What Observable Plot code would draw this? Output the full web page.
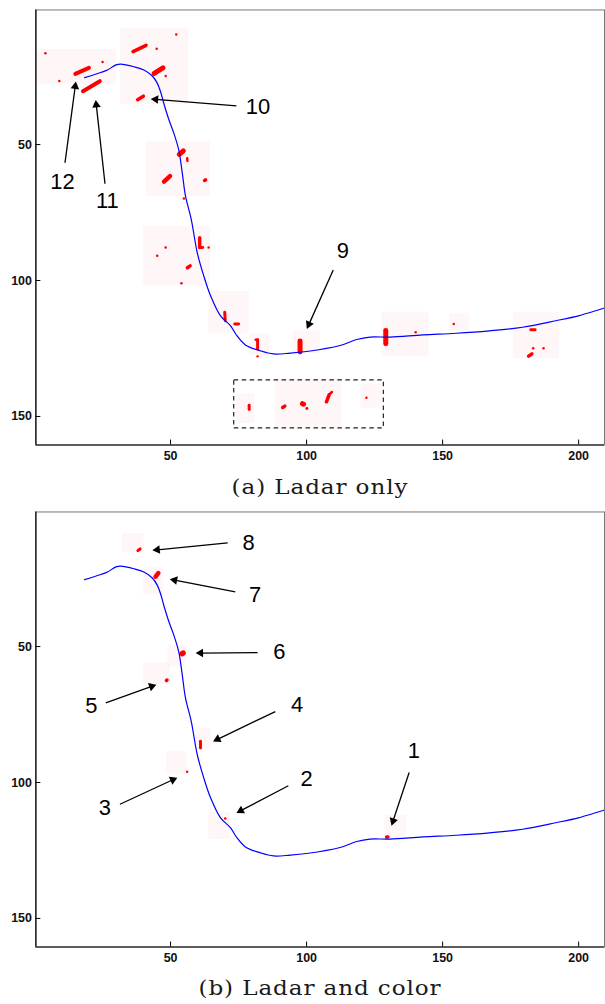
<!DOCTYPE html>
<html><head><meta charset="utf-8">
<script src="https://cdn.jsdelivr.net/npm/d3@7"></script>
<script src="https://cdn.jsdelivr.net/npm/@observablehq/plot@0.6"></script>
<style>
html,body{margin:0;padding:0;background:#fff;width:605px;height:1004px;overflow:hidden;}
#wrap{position:relative;width:605px;height:1004px;overflow:hidden;}
.panel{position:absolute;left:0;}
.cap{position:absolute;left:35px;width:570px;text-align:center;font-family:"DejaVu Serif",serif;font-size:21px;letter-spacing:0.8px;color:#1a1a1a;line-height:26px;transform:scaleX(1.1);transform-origin:center;}
</style></head><body><div id="wrap"></div>
<script>
// ---- data (image coordinates: x right, y down) ----
const xTicks = [50, 100, 150, 200];
const yTicks = [50, 100, 150];
const xDomain = [0.5, 209.5];
const yDomain = [0.5, 160.5];

// road centreline
const roadX = [18.4, 24.4, 26.8, 29.9, 31.7, 36.6, 40.2, 43.3, 45.1, 46.3, 47.5, 49.4, 51.2, 53.0, 54.3, 55.5, 57.6, 59.8, 62.2, 64.7, 68.3, 72.0, 74.4, 77.5, 82.9, 87.8, 94.0, 100.0, 112.3, 118.4, 123.3, 130.6, 142.8, 155.0, 167.2, 179.4, 191.6, 200.2, 209.5];
const roadY = [25.4, 23.5, 22.6, 20.7, 20.4, 21.4, 22.6, 24.8, 27.4, 30.5, 34.8, 40.9, 45.8, 51.9, 60.4, 69.0, 77.5, 89.7, 98.3, 105.6, 112.9, 116.6, 120.3, 123.7, 125.8, 127.0, 126.7, 126.1, 123.9, 121.7, 120.8, 120.8, 120.0, 119.4, 118.5, 117.2, 114.8, 112.9, 110.1];

// detections: [x1, y1, x2, y2, blob extent]
const detectionsA = [
  [4.0,16.4,4.0,16.4,2.5],[15.0,24.0,20.0,21.8,4],[9.1,26.6,9.1,26.6,2.5],[25.0,19.6,25.0,19.6,2.5],
  [17.8,30.4,24.0,26.7,4],[36.2,15.8,41.0,13.5,3.5],[44.9,14.8,44.9,14.8,2.5],[52.1,9.5,52.1,9.5,2.5],
  [44.0,23.8,47.2,21.8,5],[48.2,24.8,48.2,24.8,2.5],[37.9,33.5,40.0,32.2,3.5],[53.2,53.6,54.7,52.3,5],
  [56.1,55.0,56.2,56.0,2.5],[47.6,63.6,49.8,61.6,4.5],[62.5,63.2,62.9,63.0,3.5],[54.9,69.8,54.9,69.8,2.5],
  [60.7,84.3,60.7,87.9,3.5],[60.7,87.9,61.8,87.9,3],[64.0,87.9,64.0,87.9,2.5],[48.2,87.9,48.2,87.9,2.5],
  [45.1,90.9,45.1,90.9,2.5],[56.2,95.3,57.2,94.6,3.5],[54.0,101.0,54.0,101.0,2.5],[69.9,111.7,70.1,114.8,3],
  [73.6,116.0,75.0,116.0,3],[81.3,121.8,82.0,121.8,2.5],[82.0,121.8,82.0,125.2,3],[82.0,127.9,82.0,127.9,2.5],
  [97.6,122.2,97.6,126.3,5],[129.1,118.4,129.1,123.3,5],[140.1,119.0,140.1,119.0,2.5],[154.1,116.0,154.1,116.0,2.5],
  [182.4,118.1,184.0,118.1,3],[183.3,124.9,183.3,124.9,2.5],[187.1,124.9,187.1,124.9,2.5],[181.6,127.8,182.8,127.0,3.5],
  [78.9,145.9,78.9,147.4,3],[91.2,146.7,92.0,146.2,3.5],[98.5,145.3,98.9,145.5,5],[100.1,147.1,100.1,147.1,3],
  [107.3,144.6,108.3,142.0,3.5],[108.3,142.0,109.3,141.0,2.5],[122.0,143.1,122.0,143.1,2.5]
];
const detectionsB = [
  [38.0,14.7,38.8,14.1,3],[44.5,24.3,45.5,23.0,4.5],[54.3,52.6,54.6,52.4,5.5],[48.5,62.5,48.7,62.3,3.5],
  [61.0,84.8,61.0,87.3,3],[56.1,96.0,56.1,96.0,2.5],[70.1,113.2,70.1,113.2,2.5],[129.4,120.0,129.9,120.0,3.5]
];

// faint sensor-return patches: [x1, y1, x2, y2]
const patchesA = [
  [0.5,15,30,28],[31.7,7.2,56.6,35.4],[41,49,64.7,69],[40,80,64.7,102],[64,104,79,119.6],[79,119.6,86.6,127.7],
  [95,118.5,105,127],[127.6,111.6,145,128],[152.5,112,160,118.5],[176,111.6,193,128.8],
  [74,141.6,81,152.6],[88.5,136,113,154.4],[120,138,127.7,147]
];
const patchesB = [
  [32.3,8.4,40.2,15.3],[40,21,47.5,31],[49,49.4,55.5,57.4],[40,56,50,64],[59,80,65,88],
  [48.5,88.6,56,97],[64,111,72,121],[128.7,112,136.8,120.5]
];

// dashed region in (a)
const boxA = [73.4, 136.7, 128.4, 154.4];

// annotations: label, label x, label y, arrow start x, y, arrow tip x, y
const labelsA = [
  ["12", 10.3, 63.8, 11.2, 56.7, 15.2, 26.8],
  ["11", 26.8, 70.8, 25.9, 64.4, 22.5, 33.6],
  ["10", 82.1, 36.0, 74.2, 35.8, 42.7, 33.2],
  ["9", 113.3, 89.1, 109.8, 96.1, 100.1, 117.8]
];
const labelsB = [
  ["8", 78.7, 11.9, 71.0, 11.9, 43.3, 14.6],
  ["7", 81.1, 31.1, 73.8, 29.9, 49.7, 25.2],
  ["6", 90.0, 51.9, 82.0, 52.2, 59.2, 52.4],
  ["5", 20.9, 72.0, 26.2, 70.7, 44.8, 64.0],
  ["4", 96.5, 71.4, 88.5, 73.9, 65.6, 84.9],
  ["3", 25.8, 109.2, 31.4, 108.0, 52.5, 98.2],
  ["2", 100.0, 98.8, 93.3, 101.2, 74.2, 111.2],
  ["1", 139.4, 88.4, 137.7, 96.3, 131.2, 115.9]
];
const captions = ["(a) Ladar only", "(b) Ladar and color"];

// ---- drawing ----
const road = roadX.map((x, i) => ({x, y: roadY[i]}));
const W = 607, H = 470, mL = 35.5, mR = 1, mT = 9.5, mB = 24;
const frameW = W - mL - mR, frameH = H - mT - mB;
const unitPx = frameW / (xDomain[1] - xDomain[0]);
const headBack = 5.0 / unitPx;

function makePanel(detections, patches, labels, box) {
  const arrows = labels.map(([t, lx, ly, x1, y1, x2, y2]) => {
    const dx = x2 - x1, dy = y2 - y1, L = Math.hypot(dx, dy);
    return {t, lx, ly, x1, y1, x2, y2,
      hx: x2 - dx / L * headBack, hy: y2 - dy / L * headBack,
      rot: Math.atan2(dx, -dy) * 180 / Math.PI};
  });
  const marks = [
    Plot.rect(patches, {x1: d => d[0], y1: d => d[1], x2: d => d[2], y2: d => d[3], fill: "#ff0000", fillOpacity: 0.03}),
    Plot.link(detections, {x1: d => d[0], y1: d => d[1], x2: d => d[2], y2: d => d[3], stroke: "#ff0000", strokeWidth: d => d[4], strokeLinecap: "round"}),
    Plot.line(road, {x: "x", y: "y", stroke: "#0000ff", strokeWidth: 1.2, curve: "catmull-rom"}),
  ];
  if (box) marks.push(Plot.rect([box], {x1: d => d[0], y1: d => d[1], x2: d => d[2], y2: d => d[3], fill: "none", stroke: "#222", strokeWidth: 1.2, strokeDasharray: "4.5,3.5"}));
  marks.push(
    Plot.link(arrows, {x1: "x1", y1: "y1", x2: "hx", y2: "hy", stroke: "#000", strokeWidth: 1.3}),
    Plot.dot(arrows, {x: "hx", y: "hy", symbol: "triangle", r: 3.2, fill: "#000", stroke: "none", rotate: "rot"}),
    Plot.text(arrows, {x: "lx", y: "ly", text: "t", fontSize: 22, fontFamily: "Liberation Sans, Arial, sans-serif", fill: "#000"}),
    Plot.frame({stroke: "#777", strokeWidth: 1}),
    Plot.ruleX([xDomain[0]], {stroke: "#000", strokeWidth: 1.2}),
    Plot.ruleY([yDomain[1]], {stroke: "#000", strokeWidth: 1.2}),
    Plot.ruleX(xTicks, {x: d => d, insetTop: frameH - 5, stroke: "#000"}),
    Plot.ruleY(yTicks, {y: d => d, insetRight: frameW - 5, stroke: "#000"}),
    Plot.axisX({ticks: xTicks, tickSize: 0, tickPadding: 6, fontSize: 12.5, fontWeight: "bold", fill: "#111"}),
    Plot.axisY({ticks: yTicks, tickSize: 0, tickPadding: 4, fontSize: 12.5, fontWeight: "bold", fill: "#111"})
  );
  return Plot.plot({
    width: W, height: H, marginLeft: mL, marginRight: mR, marginTop: mT, marginBottom: mB,
    x: {domain: xDomain}, y: {domain: yDomain, reverse: true},
    style: {fontFamily: "Liberation Sans, Arial, sans-serif", background: "#fff", overflow: "visible"},
    marks
  });
}

const wrap = document.getElementById("wrap");
const pA = makePanel(detectionsA, patchesA, labelsA, boxA);
pA.classList.add("panel"); pA.style.top = "0px";
wrap.appendChild(pA);
const cA = document.createElement("div"); cA.className = "cap"; cA.style.top = "474px"; cA.textContent = captions[0];
wrap.appendChild(cA);
const pB = makePanel(detectionsB, patchesB, labelsB, null);
pB.classList.add("panel"); pB.style.top = "502.2px";
wrap.appendChild(pB);
const cB = document.createElement("div"); cB.className = "cap"; cB.style.top = "975px"; cB.textContent = captions[1];
wrap.appendChild(cB);
</script>
</body></html>
